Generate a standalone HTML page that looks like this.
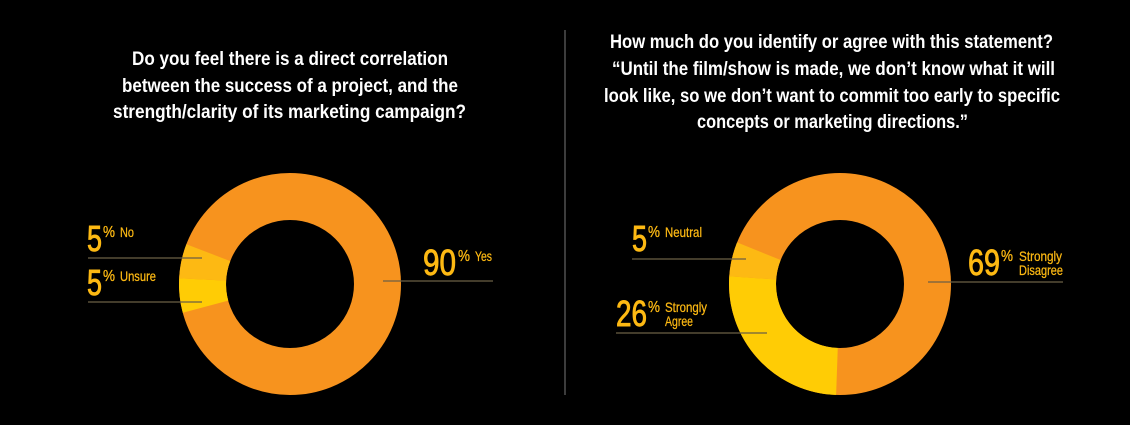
<!DOCTYPE html>
<html><head><meta charset="utf-8"><style>
html,body{margin:0;padding:0;background:#000;}
svg{display:block;}
text{font-family:"Liberation Sans Narrow","Liberation Sans",sans-serif;}
.t{fill:#fff;font-weight:bold;font-size:19px;}
.big{fill:#FDB913;font-size:36px;stroke:#FDB913;stroke-width:0.9;}
.pc{fill:#FDB913;font-size:16px;stroke:#FDB913;stroke-width:0.3;}
.lb{fill:#FDB913;font-size:14px;stroke:#FDB913;stroke-width:0.25;}
.ln{stroke:#6b5f45;stroke-width:1.2;}
</style></head><body>
<svg width="1130" height="425" viewBox="0 0 1130 425" xmlns="http://www.w3.org/2000/svg">
<rect width="1130" height="425" fill="#000"/>
<line x1="565" y1="30" x2="565" y2="395" stroke="#3c3c3c" stroke-width="2"/>
<text class="t" x="132" y="65" textLength="316" lengthAdjust="spacingAndGlyphs">Do you feel there is a direct correlation</text>
<text class="t" x="122" y="92" textLength="336" lengthAdjust="spacingAndGlyphs">between the success of a project, and the</text>
<text class="t" x="113" y="118" textLength="353" lengthAdjust="spacingAndGlyphs">strength/clarity of its marketing campaign?</text>
<text class="t" x="610" y="48" textLength="443" lengthAdjust="spacingAndGlyphs">How much do you identify or agree with this statement?</text>
<text class="t" x="612" y="75" textLength="443" lengthAdjust="spacingAndGlyphs">“Until the film/show is made, we don’t know what it will</text>
<text class="t" x="604" y="102" textLength="456" lengthAdjust="spacingAndGlyphs">look like, so we don’t want to commit too early to specific</text>
<text class="t" x="697" y="128" textLength="271" lengthAdjust="spacingAndGlyphs">concepts or marketing directions.”</text>

<g transform="translate(290,284)" fill="none" stroke-width="47">
<circle r="87.5" stroke="#F7931E"/>
<circle r="87.5" stroke="#FFCC05" stroke-dasharray="27.49 600" transform="rotate(165)"/>
<circle r="87.5" stroke="#FDB913" stroke-dasharray="27.49 600" transform="rotate(183)"/>
</g>
<g transform="translate(840,284)" fill="none" stroke-width="47">
<circle r="87.5" stroke="#F7931E"/>
<circle r="87.5" stroke="#FFCC05" stroke-dasharray="140.5 600" transform="rotate(92)"/>
<circle r="87.5" stroke="#FDB913" stroke-dasharray="27.49 600" transform="rotate(184)"/>
</g>

<text class="big" x="87" y="251" textLength="15" lengthAdjust="spacingAndGlyphs">5</text>
<text class="pc" x="103" y="237" textLength="12" lengthAdjust="spacingAndGlyphs">%</text>
<text class="lb" x="120" y="237" textLength="14" lengthAdjust="spacingAndGlyphs">No</text>
<line class="ln" x1="88" y1="258" x2="202" y2="258"/>
<text class="big" x="87" y="295" textLength="15" lengthAdjust="spacingAndGlyphs">5</text>
<text class="pc" x="103" y="281" textLength="12" lengthAdjust="spacingAndGlyphs">%</text>
<text class="lb" x="120" y="281" textLength="36" lengthAdjust="spacingAndGlyphs">Unsure</text>
<line class="ln" x1="88" y1="302" x2="202" y2="302"/>
<text class="big" x="423" y="275" textLength="33" lengthAdjust="spacingAndGlyphs">90</text>
<text class="pc" x="458" y="261" textLength="12" lengthAdjust="spacingAndGlyphs">%</text>
<text class="lb" x="475" y="261" textLength="17" lengthAdjust="spacingAndGlyphs">Yes</text>
<line class="ln" x1="383" y1="281" x2="493" y2="281"/>

<text class="big" x="632" y="251" textLength="15" lengthAdjust="spacingAndGlyphs">5</text>
<text class="pc" x="648" y="237" textLength="12" lengthAdjust="spacingAndGlyphs">%</text>
<text class="lb" x="665" y="237" textLength="37" lengthAdjust="spacingAndGlyphs">Neutral</text>
<line class="ln" x1="632" y1="259" x2="746" y2="259"/>
<text class="big" x="616" y="326" textLength="31" lengthAdjust="spacingAndGlyphs">26</text>
<text class="pc" x="648" y="312" textLength="12" lengthAdjust="spacingAndGlyphs">%</text>
<text class="lb" x="665" y="312" textLength="42" lengthAdjust="spacingAndGlyphs">Strongly</text>
<text class="lb" x="665" y="326" textLength="28" lengthAdjust="spacingAndGlyphs">Agree</text>
<line class="ln" x1="616" y1="333" x2="767" y2="333"/>
<text class="big" x="968" y="275" textLength="32" lengthAdjust="spacingAndGlyphs">69</text>
<text class="pc" x="1001" y="261" textLength="12" lengthAdjust="spacingAndGlyphs">%</text>
<text class="lb" x="1019" y="261" textLength="43" lengthAdjust="spacingAndGlyphs">Strongly</text>
<text class="lb" x="1019" y="275" textLength="44" lengthAdjust="spacingAndGlyphs">Disagree</text>
<line class="ln" x1="928" y1="282" x2="1063" y2="282"/>
</svg>
</body></html>
